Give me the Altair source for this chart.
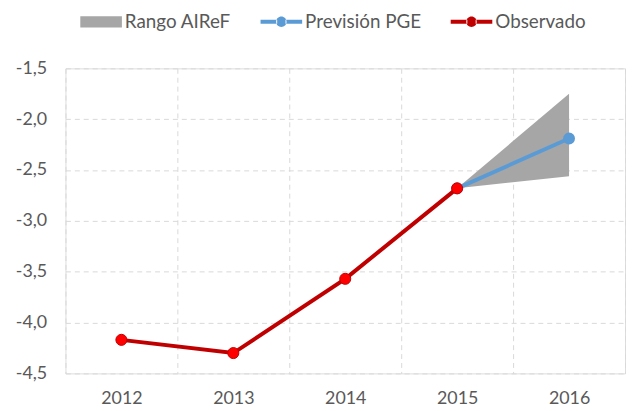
import altair as alt
import pandas as pd

# Data
obs_years = [2012, 2013, 2014, 2015]
obs_values = [-4.17, -4.30, -3.57, -2.68]

pge_years = [2015, 2016]
pge_values = [-2.68, -2.19]

range_years = [2015, 2016]
range_low = [-2.68, -2.56]
range_high = [-2.68, -1.75]

series_names = ["Rango AIReF", "Previsión PGE", "Observado"]
series_colors = ["#a6a6a6", "#5b9bd5", "#c00000"]

x_ticks = [2011.5, 2012, 2012.5, 2013, 2013.5, 2014, 2014.5, 2015, 2015.5, 2016, 2016.5]
y_ticks = [-4.5, -4.0, -3.5, -3.0, -2.5, -2.0, -1.5]

obs_df = pd.DataFrame({"year": obs_years, "value": obs_values, "serie": "Observado"})
pge_df = pd.DataFrame({"year": pge_years, "value": pge_values, "serie": "Previsión PGE"})
rng_df = pd.DataFrame({"year": range_years, "lo": range_low, "hi": range_high, "serie": "Rango AIReF"})

FONT = "Lato"
TXT = "#595959"

rect_path = "M-1,-0.27H1V0.27H-1Z"
line_path = ("M-1,-0.095H-0.2V0.095H-1Z M0.2,-0.095H1V0.095H0.2Z "
             "M-0.25,0A0.25,0.25 0 1,0 0.25,0A0.25,0.25 0 1,0 -0.25,0Z")

legend = alt.Legend(
    title=None,
    orient="none",
    direction="horizontal",
    legendX=15,
    legendY=-68,
    columns=3,
    columnPadding=29,
    labelOffset=3,
    labelFont=FONT,
    labelFontSize=19,
    labelColor=TXT,
    symbolSize=1764,
    symbolStrokeWidth=0,
    symbolOpacity=1,
    symbolType=alt.ExprRef(f"datum.value === 'Rango AIReF' ? '{rect_path}' : '{line_path}'"),
    symbolFillColor=alt.ExprRef("scale('color', datum.value)"),
    symbolStrokeColor="transparent",
)

color = alt.Color(
    "serie:N",
    scale=alt.Scale(domain=series_names, range=series_colors),
    legend=legend,
)

x_enc = alt.X(
    "year:Q",
    scale=alt.Scale(domain=[2011.5, 2016.5], nice=False, zero=False),
    axis=alt.Axis(
        title=None,
        values=x_ticks,
        labelExpr="datum.value % 1 === 0 ? format(datum.value, 'd') : ''",
        labelOverlap=False,
        labelFlush=False,
        labelFont=FONT,
        labelFontSize=18,
        labelColor=TXT,
        labelPadding=16,
        ticks=False,
        tickSize=0,
        domain=False,
        grid=True,
        gridColor="#d9d9d9",
        gridDash=[5, 4],
        gridWidth=1,
        gridOpacity={"condition": {"test": "datum.value % 1 !== 0", "value": 1}, "value": 0},
    ),
)

y_scale = alt.Scale(domain=[-4.5, -1.5], nice=False, zero=False)
y_axis = alt.Axis(
    title=None,
    values=y_ticks,
    labelExpr="(datum.value < 0 ? '-' : '') + replace(format(abs(datum.value), '.1f'), '.', ',')",
    labelFont=FONT,
    labelFontSize=18,
    labelColor=TXT,
    labelPadding=19,
    ticks=False,
    tickSize=0,
    domain=False,
    grid=True,
    gridColor="#d9d9d9",
    gridDash=[5, 4],
    gridWidth=1,
)

area = alt.Chart(rng_df).mark_area(opacity=1).encode(
    x=x_enc,
    y=alt.Y("lo:Q", scale=y_scale, axis=y_axis),
    y2="hi:Q",
    color=color,
)

blue_line = alt.Chart(pge_df).mark_line(strokeWidth=4).encode(
    x="year:Q", y="value:Q", color=color
)
blue_pts = alt.Chart(pge_df).mark_point(
    filled=True, fill="#5b9bd5", stroke="#5b9bd5", size=100, opacity=1, shape="circle"
).encode(x="year:Q", y="value:Q")

red_line = alt.Chart(obs_df).mark_line(strokeWidth=4).encode(
    x="year:Q", y="value:Q", color=color
)
red_pts = alt.Chart(obs_df).mark_point(
    filled=True, fill="#ff0000", stroke="#c00000", strokeWidth=1, size=125, opacity=1, shape="circle"
).encode(x="year:Q", y="value:Q")

chart = alt.layer(area, blue_line, blue_pts, red_line, red_pts).properties(
    width=565,
    height=308,
    padding={"left": 58, "top": 59, "right": 1, "bottom": 34},
    autosize=alt.AutoSizeParams(type="none"),
).configure_view(stroke=None).configure(background="white")

chart.save("out.html", embed_options={"renderer": "svg", "actions": False})
